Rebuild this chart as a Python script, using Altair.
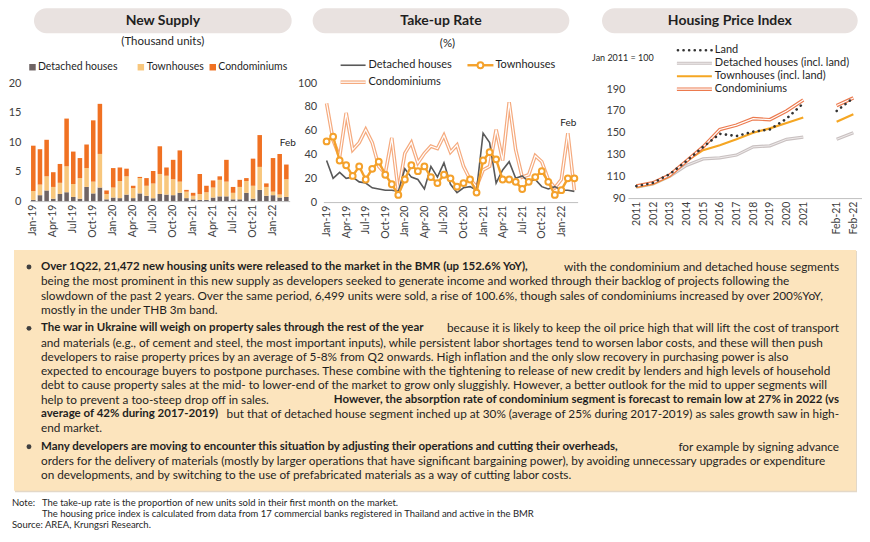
import altair as alt
import pandas as pd

FONT = "Lato"
TXT = "#1f1f1f"
AXC = "#404040"
PILL = "#E9E2E0"

# ---------------- data ----------------
months = ["Jan-19", "Feb-19", "Mar-19", "Apr-19", "May-19", "Jun-19", "Jul-19", "Aug-19", "Sep-19", "Oct-19", "Nov-19", "Dec-19",
          "Jan-20", "Feb-20", "Mar-20", "Apr-20", "May-20", "Jun-20", "Jul-20", "Aug-20", "Sep-20", "Oct-20", "Nov-20", "Dec-20",
          "Jan-21", "Feb-21", "Mar-21", "Apr-21", "May-21", "Jun-21", "Jul-21", "Aug-21", "Sep-21", "Oct-21", "Nov-21", "Dec-21",
          "Jan-22", "Feb-22", "Mar-22"]
month_ticks = ["Jan-19", "Apr-19", "Jul-19", "Oct-19", "Jan-20", "Apr-20", "Jul-20", "Oct-20",
               "Jan-21", "Apr-21", "Jul-21", "Oct-21", "Jan-22"]

seg_names = ["Detached houses", "Townhouses", "Condominiums"]
seg_colors = ["#6F6464", "#F8C77D", "#F07122"]

supply_detached = [0.2, 1.0, 1.8, 0.4, 1.2, 1.5, 0.7, 0.4, 2.4, 1.3, 2.3, 0.3,
                   0.6, 0.5, 1.1, 0.5, 1.3, 0.9, 0.5, 1.2, 1.1, 1.0, 1.4, 0.5,
                   0.3, 0.2, 0.2, 0.6, 0.8, 0.8, 0.3, 0.3, 1.4, 0.4, 1.9, 0.9,
                   1.0, 0.6, 0.7]
supply_town = [1.5, 1.8, 2.4, 2.0, 1.9, 4.4, 2.2, 3.5, 3.2, 2.0, 5.7, 0.9,
               1.7, 2.9, 3.1, 1.7, 2.6, 1.7, 2.5, 3.4, 3.2, 2.7, 1.9, 1.1,
               0.6, 1.0, 1.3, 1.7, 2.8, 2.5, 1.1, 2.1, 2.0, 2.2, 3.9, 1.5,
               0.6, 0.5, 3.0]
supply_condo = [7.7, 6.0, 6.2, 2.5, 3.2, 8.1, 5.5, 3.4, 4.0, 10.4, 8.5, 0.6,
                3.3, 2.3, 1.3, 0.4, 0.2, 1.3, 2.1, 4.7, 1.4, 3.3, 5.3, 0.3,
                0.5, 3.4, 1.1, 1.2, 0.6, 3.7, 1.0, 1.2, 0.5, 4.6, 5.4, 0.6,
                5.7, 6.9, 2.5]

take_detached = [35, 20, 25, 20, 21, 17, 16, 12, 11, 10, 10, 9,
                 28, 21, 19, 11, 30, 21, 33, 15, 8, 12, 13, 10,
                 58, 50, 16, 27, 34, 20, 22, 17, 19, 13, 11, 13,
                 10, 10, 9]
take_town = [51, 55, 35, 31, 22, 30, 19, 28, 34, 23, 15, 6,
             19, 31, 26, 30, 21, 16, 23, 20, 13, 16, 19, 8,
             35, 42, 36, 19, 19, 17, 11, 17, 21, 26, 17, 6,
             10, 20, 20]
take_condo = [83, 52, 38, 75, 44, 50, 61, 50, 30, 24, 54, 9,
              41, 50, 33, 41, 47, 45, 56, 42, 48, 30, 19, 13,
              27, 30, 61, 35, 84, 44, 21, 23, 39, 34, 19, 12,
              19, 58, 10]

hpi_periods = ["2011", "2012", "2013", "2014", "2015", "2016", "2017", "2018", "2019", "2020", "2021",
               " ", "Feb-21", "Feb-22"]
hpi_points = ["2011", "2012", "2013", "2014", "2015", "2016", "2017", "2018", "2019", "2020", "2021",
              "Feb-21", "Feb-22"]
hpi_part = ["annual"] * 11 + ["feb"] * 2
hpi_names = ["Land", "Detached houses (incl. land)", "Townhouses (incl. land)", "Condominiums"]
hpi_land = [101, 104, 112, 124, 137, 149, 147, 151, 153, 163, 177, 170, 182]
hpi_detached = [100, 103, 110, 120, 126, 127, 129.5, 137, 138, 144, 146, 144, 150]
hpi_town = [100, 103, 110, 124, 134, 138.5, 144, 150, 154, 159, 164, 160, 167]
hpi_condo = [101, 104, 111, 124, 137, 153, 157, 163, 162, 170, 180, 175, 182]

# ---------------- tables ----------------
supply_rows = []
for i, m in enumerate(months):
    for k, arr in enumerate([supply_detached, supply_town, supply_condo]):
        supply_rows.append({"month": m, "segment": seg_names[k], "ord": k, "value": arr[i]})
df_supply = pd.DataFrame(supply_rows)


def take_df(arr):
    return pd.DataFrame({"month": months, "idx": list(range(len(months))), "value": arr})


def hpi_df(arr):
    return pd.DataFrame({"period": hpi_points, "idx": list(range(len(hpi_points))), "part": hpi_part, "value": arr})


one = pd.DataFrame({"k": [0]})


def pill(x0, x1):
    return alt.Chart(one).mark_rect(cornerRadius=12.5, fill=PILL).encode(
        x=alt.value(x0), x2=alt.value(x1), y=alt.value(0), y2=alt.value(25))


def label(txt, x, y, size=11, weight="normal", align="left", color=TXT):
    return alt.Chart(one).mark_text(text=txt, font=FONT, fontSize=size, fontWeight=weight,
                                    align=align, baseline="middle", color=color).encode(
        x=alt.value(x), y=alt.value(y))


def hrule(x0, x1, y, color, width, dash=None, cap="butt"):
    kw = dict(color=color, strokeWidth=width, strokeCap=cap)
    if dash:
        kw["strokeDash"] = dash
    return alt.Chart(one).mark_rule(**kw).encode(x=alt.value(x0), x2=alt.value(x1), y=alt.value(y))


def square(x, y, color):
    return alt.Chart(one).mark_square(size=42, color=color, opacity=1).encode(x=alt.value(x), y=alt.value(y))


x_axis_common = dict(title=None, labelAngle=270, ticks=False, domainColor="#BFBFBF",
                     labelFontSize=10.5, labelPadding=3, labelColor=AXC)
y_axis_common = dict(title=None, domain=False, ticks=False, grid=False, labelPadding=3,
                     labelFontSize=11, labelColor=AXC)

# ---------------- panel 1: New Supply ----------------
W1, H1 = 266, 193
x1 = alt.X("month:N", scale=alt.Scale(domain=months, range=[6, W1], paddingInner=0.32, paddingOuter=0.16),
           axis=alt.Axis(values=month_ticks, **x_axis_common))
y1 = alt.Y("value:Q", stack="zero", scale=alt.Scale(domain=[0, 20], range=[H1, 75], nice=False),
           axis=alt.Axis(values=[0, 5, 10, 15, 20], **y_axis_common))
bars = alt.Chart(df_supply).mark_bar().encode(
    x=x1, y=y1,
    color=alt.Color("segment:N", scale=alt.Scale(domain=seg_names, range=seg_colors), legend=None),
    order=alt.Order("ord:Q"))

p1 = alt.layer(
    pill(10, 268),
    label("New Supply", 139, 13, size=14, weight="bold", align="center"),
    label("(Thousand units)", 139, 34, size=11.5, align="center"),
    square(8.5, 59, seg_colors[0]), label(seg_names[0], 14, 59, size=10.5),
    square(117, 59, seg_colors[1]), label(seg_names[1], 123, 59, size=10.5),
    square(189, 59, seg_colors[2]), label(seg_names[2], 194.5, 59, size=10.5),
    label("Feb", 256, 135, size=10),
    bars,
).properties(width=W1, height=H1)

# ---------------- panel 2: Take-up Rate ----------------
W2, H2 = 258.3, 194
C_DET = "#595959"
C_TOWN = "#F4A12B"
C_CONDO2 = "#F5AA7E"
x2 = alt.X("month:N", scale=alt.Scale(type="point", domain=months, range=[3.7, W2], padding=0.5),
           axis=alt.Axis(values=month_ticks, **x_axis_common))
y2 = alt.Y("value:Q", scale=alt.Scale(domain=[0, 100], range=[H2, 75], nice=False),
           axis=alt.Axis(values=[0, 20, 40, 60, 80, 100], **y_axis_common))
o2 = alt.Order("idx:Q")
condo_out = alt.Chart(take_df(take_condo)).mark_line(color=C_CONDO2, strokeWidth=3.6, strokeJoin="miter").encode(x=x2, y=y2, order=o2)
condo_in = alt.Chart(take_df(take_condo)).mark_line(color="white", strokeWidth=1.2, strokeJoin="miter").encode(x=x2, y=y2, order=o2)
det_line = alt.Chart(take_df(take_detached)).mark_line(color=C_DET, strokeWidth=1.6).encode(x=x2, y=y2, order=o2)
town_line = alt.Chart(take_df(take_town)).mark_line(color=C_TOWN, strokeWidth=2.4).encode(x=x2, y=y2, order=o2)
town_pts = alt.Chart(take_df(take_town)).mark_point(shape="circle", filled=True, fill="white", stroke=C_TOWN,
                                                    strokeWidth=2, size=34, opacity=1).encode(x=x2, y=y2)

p2 = alt.layer(
    pill(-7, 250),
    label("Take-up Rate", 121.5, 13, size=14, weight="bold", align="center"),
    label("(%)", 128, 36, size=11.5, align="center"),
    hrule(21, 46, 57, C_DET, 1.6), label(seg_names[0], 49, 57),
    hrule(148, 174, 57, C_TOWN, 2.4),
    alt.Chart(one).mark_point(shape="circle", filled=True, fill="white", stroke=C_TOWN, strokeWidth=2,
                              size=34, opacity=1).encode(x=alt.value(161), y=alt.value(57)),
    label(seg_names[1], 176, 57),
    hrule(21, 46, 74, C_CONDO2, 3.6), hrule(21, 46, 74, "white", 1.2), label(seg_names[2], 49, 74),
    label("Feb", 249, 115, size=10, align="center"),
    condo_out, condo_in, det_line, town_line, town_pts,
).properties(width=W2, height=H2)

# ---------------- panel 3: Housing Price Index ----------------
X0 = 19.7          # the y axis sits X0 px inside the panel's left edge
W3, H3 = X0 + 234, 190
C_LAND = "#333333"
C_HDET = "#C9C1C1"
C_HTOWN = "#F5A623"
C_HCONDO = "#EC7A4E"
x3 = alt.X("period:N", scale=alt.Scale(type="point", domain=hpi_periods, range=[X0, W3], padding=0.5),
           axis=alt.Axis(values=hpi_points, **x_axis_common))
y3 = alt.Y("value:Q", scale=alt.Scale(domain=[90, 190], range=[H3, 81], nice=False),
           axis=alt.Axis(values=[90, 110, 130, 150, 170, 190], offset=-X0, **y_axis_common))
o3 = alt.Order("idx:Q")
d3 = alt.Detail("part:N")


def hpi_line(arr, **kw):
    return alt.Chart(hpi_df(arr)).mark_line(**kw).encode(x=x3, y=y3, order=o3, detail=d3)


LX0, LX1, LT = 68.7, 103.7, 106.7
p3 = alt.layer(
    pill(-6.3, 249.7),
    label("Housing Price Index", 121.7, 13, size=14, weight="bold", align="center"),
    label("Jan 2011 = 100", -16.3, 50, size=9),
    hrule(LX0 + 1, LX1, 42, C_LAND, 2.6, dash=[0.1, 5.5], cap="round"), label(hpi_names[0], LT, 42),
    hrule(LX0, LX1, 55, C_HDET, 3.2), hrule(LX0, LX1, 55, "#EFEBEB", 1.0), label(hpi_names[1], LT, 55),
    hrule(LX0, LX1, 68, C_HTOWN, 2.2), label(hpi_names[2], LT, 68),
    hrule(LX0, LX1, 81, C_HCONDO, 3.6), hrule(LX0, LX1, 81, "white", 1.2), label(hpi_names[3], LT, 81),
    hpi_line(hpi_detached, color=C_HDET, strokeWidth=3.2),
    hpi_line(hpi_detached, color="#EFEBEB", strokeWidth=1.0),
    hpi_line(hpi_town, color=C_HTOWN, strokeWidth=2.2),
    hpi_line(hpi_condo, color=C_HCONDO, strokeWidth=3.6),
    hpi_line(hpi_condo, color="white", strokeWidth=1.2),
    hpi_line(hpi_land, color=C_LAND, strokeWidth=2.6, strokeDash=[0.1, 5.5], strokeCap="round"),
).properties(width=W3, height=H3)

# ---------------- text box (coordinates relative to the first panel's origin) ----------------
BW, BH = 835, 281
BOX_L, BOX_R, BOX_H = -10, 833, 241
L0, R0 = 17, 816
LS = 14.3
GAP = 18.5
b1 = 17
b2 = b1 + 3 * LS + GAP
b3 = b2 + 7 * LS + GAP
REG, BOLD = 11.8, 11.5

bold_left = [
    ("Over 1Q22, 21,472 new housing units were released to the market in the BMR (up 152.6% YoY),", b1),
    ("The war in Ukraine will weigh on property sales through the rest of the year", b2),
    ("average of 42% during 2017-2019)", b2 + 6 * LS),
    ("Many developers are moving to encounter this situation by adjusting their operations and cutting their overheads,", b3),
]
bold_right = [
    ("However, the absorption rate of condominium segment is forecast to remain low at 27% in 2022 (vs", b2 + 5 * LS),
]
reg_right = [
    ("with the condominium and detached house segments", b1),
    ("because it is likely to keep the oil price high that will lift the cost of transport", b2),
    ("but that of detached house segment inched up at 30% (average of 25% during 2017-2019) as sales growth saw in high-", b2 + 6 * LS),
    ("for example by signing advance", b3),
]
reg_left = [
    ("being the most prominent in this new supply as developers seeked to generate income and worked through their backlog of projects following the", b1 + LS),
    ("slowdown of the past 2 years. Over the same period, 6,499 units were sold, a rise of 100.6%, though sales of condominiums increased by over 200%YoY,", b1 + 2 * LS),
    ("mostly in the under THB 3m band.", b1 + 3 * LS),
    ("and materials (e.g., of cement and steel, the most important inputs), while persistent labor shortages tend to worsen labor costs, and these will then push", b2 + LS),
    ("developers to raise property prices by an average of 5-8% from Q2 onwards. High inflation and the only slow recovery in purchasing power is also", b2 + 2 * LS),
    ("expected to encourage buyers to postpone purchases. These combine with the tightening to release of new credit by lenders and high levels of household", b2 + 3 * LS),
    ("debt to cause property sales at the mid- to lower-end of the market to grow only sluggishly. However, a better outlook for the mid to upper segments will", b2 + 4 * LS),
    ("help to prevent a too-steep drop off in sales.", b2 + 5 * LS),
    ("end market.", b2 + 7 * LS),
    ("orders for the delivery of materials (mostly by larger operations that have significant bargaining power), by avoiding unnecessary upgrades or expenditure", b3 + LS),
    ("on developments, and by switching to the use of prefabricated materials as a way of cutting labor costs.", b3 + 2 * LS),
]
notes = [
    ("Note:", -12, 253),
    ("The take-up rate is the proportion of new units sold in their first month on the market.", 18, 253),
    ("The housing price index is calculated from data from 17 commercial banks registered in Thailand and active  in the BMR", 18, 264),
    ("Source: AREA, Krungsri Research.", -12, 275),
]


def text_layer(rows, x, weight, align, size):
    df = pd.DataFrame({"text": [r[0] for r in rows], "y": [r[1] for r in rows], "x": [x] * len(rows)})
    return alt.Chart(df).mark_text(font=FONT, fontSize=size, fontWeight=weight, align=align,
                                   baseline="middle", color=TXT).encode(
        x=alt.X("x:Q", scale=None, axis=None), y=alt.Y("y:Q", scale=None, axis=None), text="text:N")


notes_df = pd.DataFrame({"text": [n[0] for n in notes], "x": [n[1] for n in notes], "y": [n[2] for n in notes]})
bullets_df = pd.DataFrame({"x": [5, 5, 5], "y": [b1, b2, b3]})

box = alt.layer(
    alt.Chart(one).mark_rect(fill="#E3D8C8").encode(x=alt.value(BOX_L + 1), x2=alt.value(BOX_R + 1),
                                                    y=alt.value(1), y2=alt.value(BOX_H + 1.5)),
    alt.Chart(one).mark_rect(fill="#FCE4BD").encode(x=alt.value(BOX_L), x2=alt.value(BOX_R),
                                                    y=alt.value(0), y2=alt.value(BOX_H)),
    alt.Chart(bullets_df).mark_circle(size=24, color="#404040", opacity=1).encode(
        x=alt.X("x:Q", scale=None, axis=None), y=alt.Y("y:Q", scale=None, axis=None)),
    text_layer(bold_left, L0, "bold", "left", BOLD),
    text_layer(bold_right, R0, "bold", "right", BOLD),
    text_layer(reg_left, L0, "normal", "left", REG),
    text_layer(reg_right, R0, "normal", "right", REG),
    alt.Chart(notes_df).mark_text(font=FONT, fontSize=9.5, align="left", baseline="middle", color="#262626").encode(
        x=alt.X("x:Q", scale=None, axis=None), y=alt.Y("y:Q", scale=None, axis=None), text="text:N"),
).properties(width=BW, height=BH)

top = alt.hconcat(p1, p2, p3, spacing=30, bounds="flush")
chart = alt.vconcat(top, box, spacing=242, bounds="flush").properties(padding=0).configure_view(
    stroke=None).configure_axis(labelFont=FONT, titleFont=FONT).configure_text(font=FONT)

chart.save("out.html", embed_options={"renderer": "svg", "actions": False})
